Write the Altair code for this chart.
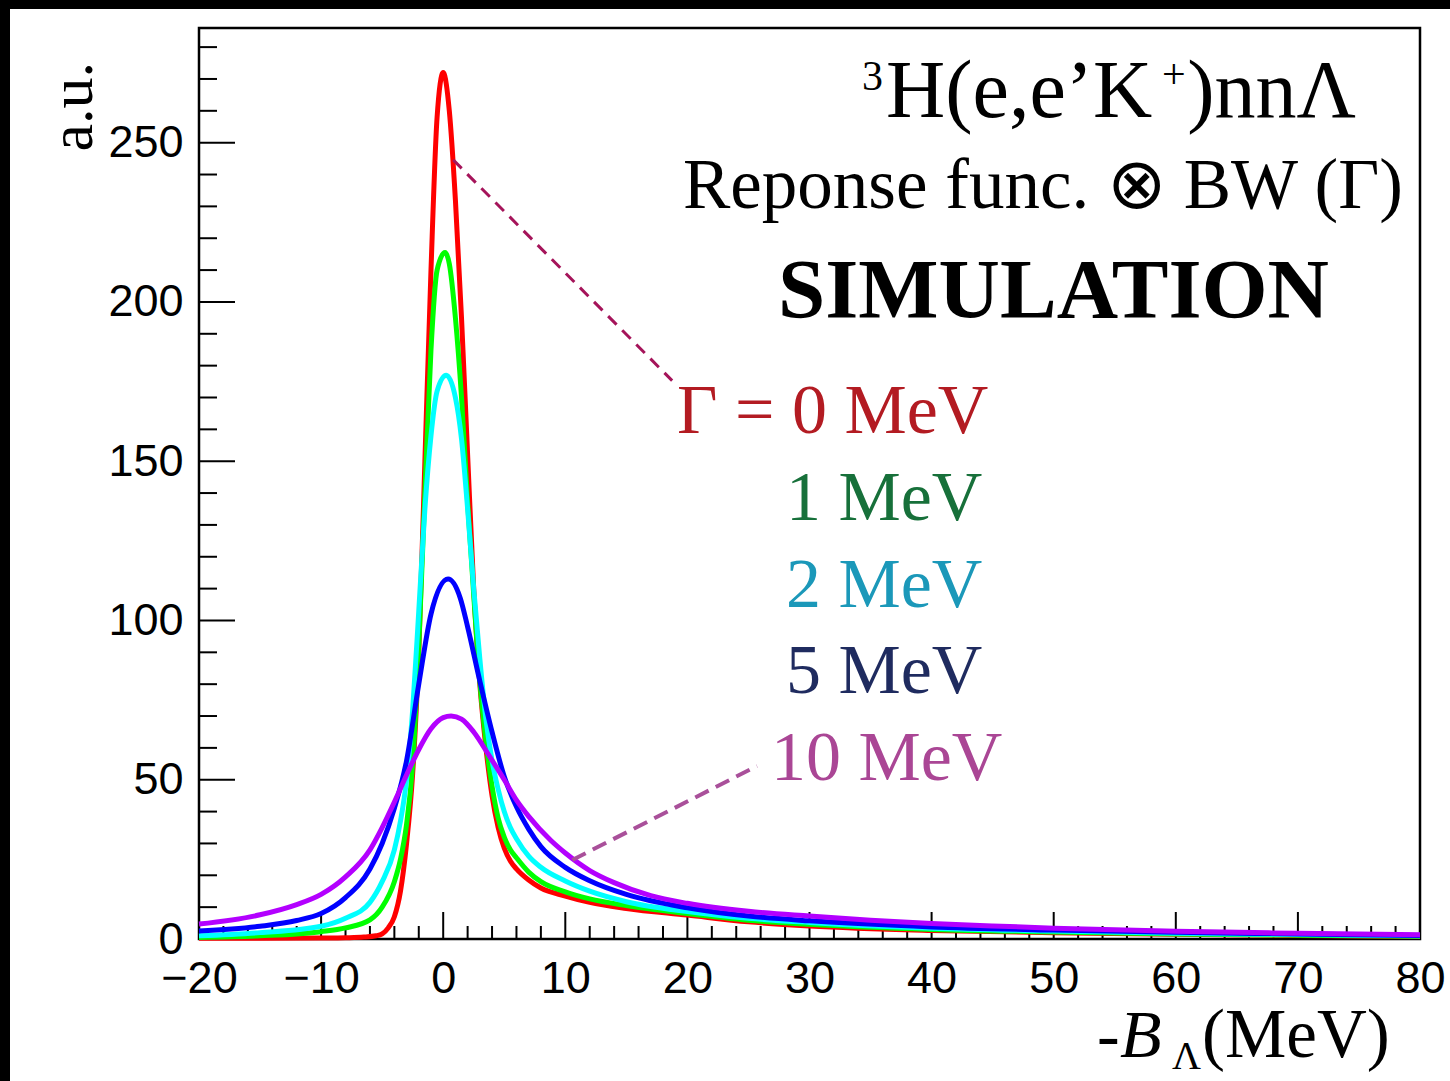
import altair as alt
import pandas as pd

# ---------------- data ----------------
x_red = [-20, -15, -10, -8, -6.5, -5.5, -5, -4.5, -4, -3.5, -3, -2.5, -2, -1.5, -1, -0.5, 0, 0.5, 1, 1.5,
         2, 2.5, 3, 3.5, 4, 4.5, 5, 5.5, 6, 7, 8, 10, 12, 15, 20, 25, 30, 40, 50, 60, 70, 80]
y_red = [0.2, 0.2, 0.3, 0.4, 0.6, 1.0, 1.6, 3.5, 7, 15, 30, 52, 90, 150, 210, 258, 272, 260, 232, 195,
         152, 110, 80, 60, 45, 35, 28.5, 24.5, 22, 18.5, 16, 13.5, 11.5, 9.6, 7.5, 5.4, 4.1, 2.7, 2.0, 1.5, 1.1, 0.8]

x_green = [-20, -15, -10, -8, -6, -5, -4, -3.5, -3, -2.5, -2, -1.5, -1, -0.5, 0.15, 0.5, 1, 1.5, 2, 2.5,
           3, 3.5, 4, 4.5, 5, 5.5, 6, 7, 8, 10, 12, 15, 20, 25, 30, 40, 50, 60, 70, 80]
y_green = [0.5, 1.0, 2.3, 3.5, 6, 10, 18, 25, 36, 55, 92, 140, 185, 210, 215.5, 212, 195, 170, 137, 108,
           81, 62, 48, 38, 32, 28, 25.5, 21, 18, 14.8, 12.6, 10.5, 8.0, 5.9, 4.6, 3.0, 2.2, 1.6, 1.2, 0.9]

x_cyan = [-20, -15, -10, -8, -6, -5, -4, -3.5, -3, -2.5, -2, -1.5, -1, -0.5, 0.25, 1, 1.5, 2, 2.5, 3,
          3.5, 4, 4.5, 5, 5.5, 6, 7, 8, 10, 12, 15, 20, 25, 30, 40, 50, 60, 70, 80]
y_cyan = [1.0, 2.0, 4.0, 6.5, 11.5, 18, 28, 37, 50, 72, 103, 135, 158, 172, 177, 170, 157, 135, 110, 88,
          69, 56, 47, 40, 35, 31.5, 26, 22.5, 18.2, 15, 11.7, 8.6, 6.5, 5.2, 3.4, 2.5, 1.8, 1.4, 1.0]

x_blue = [-20, -15, -12, -10, -8, -6, -5, -4, -3, -2, -1, 0.4, 1.4, 2, 3, 4, 5, 6, 7, 8,
          10, 12, 15, 20, 25, 30, 40, 50, 60, 70, 80]
y_blue = [2.5, 4.0, 5.8, 8.0, 13, 22, 30, 41, 56, 80, 102, 113, 107, 98, 81, 65, 51, 41.5, 34.5, 29,
          22.5, 18.3, 14, 9.8, 7.2, 5.7, 3.8, 2.8, 2.1, 1.6, 1.1]

x_purple = [-20, -15, -12, -10, -8, -6, -5, -4, -3, -2, -1, 0, 0.65, 1.5, 2.5, 3.85, 5, 6, 7, 8.8,
            10, 12, 14, 17, 20, 25, 30, 35, 40, 45, 50, 60, 70, 80]
y_purple = [4.7, 7.6, 10.8, 14, 19.5, 28, 35, 43, 51.5, 59.5, 66, 69.5, 70, 69, 65, 57, 50, 43.6, 38.5, 31,
            27, 21.5, 17.7, 13.6, 11.2, 8.7, 7.2, 5.9, 4.9, 4.1, 3.4, 2.4, 1.8, 1.3]

series_names = ["0 MeV", "1 MeV", "2 MeV", "5 MeV", "10 MeV"]
series_x = [x_red, x_green, x_cyan, x_blue, x_purple]
series_y = [y_red, y_green, y_cyan, y_blue, y_purple]
series_colors = ["#FF0000", "#00FF00", "#00FFFF", "#0000FF", "#B300FF"]

x_major = [-20, -10, 0, 10, 20, 30, 40, 50, 60, 70, 80]
x_minor = [-18, -16, -14, -12, -8, -6, -4, -2, 2, 4, 6, 8, 12, 14, 16, 18, 22, 24, 26, 28,
           32, 34, 36, 38, 42, 44, 46, 48, 52, 54, 56, 58, 62, 64, 66, 68, 72, 74, 76, 78]
y_major = [0, 50, 100, 150, 200, 250]
y_minor = [10, 20, 30, 40, 60, 70, 80, 90, 110, 120, 130, 140, 160, 170, 180, 190,
           210, 220, 230, 240, 260, 270, 280]

# annotation leader lines (data units)
lead0_x = [0.82, 18.75]
lead0_y = [244.6, 175.3]
lead10_x = [10.57, 25.7]
lead10_y = [24.8, 54.3]

legend_labels = ["Γ = 0 MeV", "1 MeV", "2 MeV", "5 MeV", "10 MeV"]
legend_colors = ["#B31B22", "#17703A", "#1B98B9", "#1F2B5F", "#AA4695"]

# ---------------- chart ----------------
W, H = 1221, 911
xs = alt.Scale(domain=[-20, 80], nice=False, zero=False)
ys = alt.Scale(domain=[0, 286], nice=False, zero=False)
SERIF = "Liberation Serif"
SANS = "Liberation Sans"
one = pd.DataFrame({"k": [0]})

X_AX = alt.Axis(values=x_major, title=None, ticks=False, domain=False, grid=False,
                labelFlush=False, labelOverlap=False, labelPadding=17,
                labelFontSize=45, labelFont=SANS, labelColor="black", format="d")
Y_AX = alt.Axis(values=y_major, title=None, ticks=False, domain=False, grid=False,
                labelFlush=False, labelOverlap=False, labelPadding=16,
                labelFontSize=45, labelFont=SANS, labelColor="black", format="d")


def X(f="x"):
    return alt.X(f"{f}:Q", scale=xs, axis=X_AX)


def Y(f="y"):
    return alt.Y(f"{f}:Q", scale=ys, axis=Y_AX)


layers = []

# black frame strips of the original screenshot
layers.append(alt.Chart(one).mark_rect(color="black").encode(
    x=alt.value(-199), x2=alt.value(-189), y=alt.value(-28), y2=alt.value(H + 142)))
layers.append(alt.Chart(one).mark_rect(color="black").encode(
    x=alt.value(-199), x2=alt.value(W + 30), y=alt.value(-28), y2=alt.value(-19)))

# x ticks (inside)
layers.append(alt.Chart(pd.DataFrame({"x": x_major})).mark_rule(color="black", strokeWidth=2).encode(
    x=X(), y=alt.value(H), y2=alt.value(H - 27)))
layers.append(alt.Chart(pd.DataFrame({"x": x_minor})).mark_rule(color="black", strokeWidth=2).encode(
    x=X(), y=alt.value(H), y2=alt.value(H - 13)))

# y ticks (inside)
layers.append(alt.Chart(pd.DataFrame({"y": y_major})).mark_rule(color="black", strokeWidth=2).encode(
    y=Y(), x=alt.value(0), x2=alt.value(36)))
layers.append(alt.Chart(pd.DataFrame({"y": y_minor})).mark_rule(color="black", strokeWidth=2).encode(
    y=Y(), x=alt.value(0), x2=alt.value(18)))

# curves
for name, xv, yv, col in zip(series_names, series_x, series_y, series_colors):
    df = pd.DataFrame({"x": xv, "y": yv, "s": name})
    layers.append(alt.Chart(df).mark_line(color=col, strokeWidth=5, interpolate="monotone").encode(
        x=X(), y=Y()))

# dashed leader lines
layers.append(alt.Chart(pd.DataFrame({"x": lead0_x, "y": lead0_y})).mark_line(
    color="#A5145A", strokeWidth=3, strokeDash=[12, 8]).encode(x=X(), y=Y()))
layers.append(alt.Chart(pd.DataFrame({"x": lead10_x, "y": lead10_y})).mark_line(
    color="#A9509A", strokeWidth=4, strokeDash=[15, 8]).encode(x=X(), y=Y()))


def txt(s, x, y, size, color="black", font=SERIF, align="left", baseline="alphabetic",
        style="normal", weight="normal", angle=0):
    return alt.Chart(one).mark_text(text=s, font=font, fontSize=size, color=color, align=align,
                                    baseline=baseline, fontStyle=style, fontWeight=weight,
                                    angle=angle).encode(x=alt.value(x), y=alt.value(y))


# top-right annotations
layers.append(txt("3", 663, 62, 42))
layers.append(txt("H(e,e’K", 687, 89, 82))
layers.append(txt("+", 963, 60, 42))
layers.append(txt(")nnΛ", 1157, 89, 82, align="right"))
layers.append(txt("Reponse func. ⊗ BW (Γ)", 484, 180, 71))
layers.append(txt("SIMULATION", 579, 290, 85, weight="bold"))

# coloured labels
leg_x = [478, 587, 587, 587, 572]
leg_y = [405, 492, 579, 665, 752]
for s, c, lx, ly in zip(legend_labels, legend_colors, leg_x, leg_y):
    layers.append(txt(s, lx, ly, 70, color=c))

# axis titles
layers.append(txt("a.u.", -107, 34, 62, align="right", angle=270))
layers.append(txt("-", 898, 1029, 68))
layers.append(txt("B", 921, 1029, 68, style="italic"))
layers.append(txt("Λ", 973, 1041, 40))
layers.append(txt("(MeV)", 1003, 1029, 69))

chart = alt.layer(*layers).properties(
    width=W, height=H,
    padding={"left": 199, "top": 28, "right": 30, "bottom": 142},
    autosize=alt.AutoSizeParams(type="none"),
    background="white",
).configure_view(stroke="black", strokeWidth=2.5)

chart.save("out.html", embed_options={"renderer": "svg", "actions": False})
